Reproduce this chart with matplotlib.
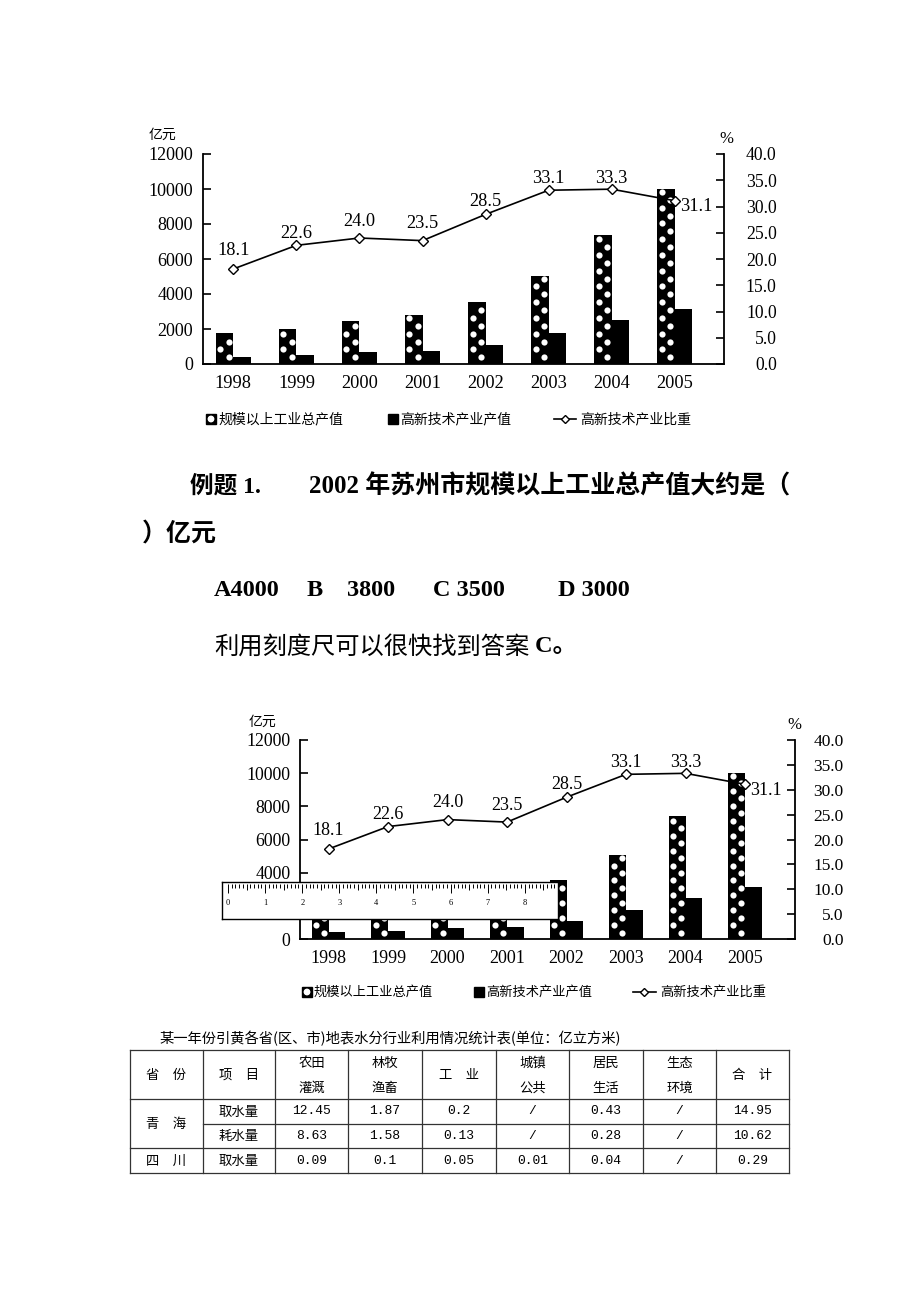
#!/usr/bin/env python
"""
Rebuild the scanned worksheet page: the Suzhou industry chart, the example
question, the same chart with a ruler laid over it, and the water-use table.
"""

import numpy as np
import matplotlib
matplotlib.use("Agg")
import matplotlib.pyplot as plt
from matplotlib.patches import Rectangle, Circle

plt.rcParams['font.family'] = ['Liberation Serif', 'Noto Sans CJK SC']

# ---- values ----
years = ["1998", "1999", "2000", "2001", "2002", "2003", "2004", "2005"]
total_output = [1780, 2000, 2450, 2800, 3550, 5050, 7400, 10000]   # 亿元
hitech_output = [400, 510, 660, 740, 1060, 1750, 2500, 3150]       # 亿元
hitech_share = [18.1, 22.6, 24.0, 23.5, 28.5, 33.1, 33.3, 31.1]    # %

left_ticks = [0, 2000, 4000, 6000, 8000, 10000, 12000]
right_ticks = [0, 5, 10, 15, 20, 25, 30, 35, 40]
legend_labels = ["规模以上工业总产值", "高新技术产业产值", "高新技术产业比重"]

question_head = "例题 1."
question_body = "2002 年苏州市规模以上工业总产值大约是（"
question_tail = "）亿元"
answer_options = ["A4000", "B", "3800", "C 3500", "D 3000"]
explanation = "利用刻度尺可以很快找到答案"
explanation_answer = " C。"

ruler_numbers = [0, 1, 2, 3, 4, 5, 6, 7, 8]

table_title = "某一年份引黄各省(区、市)地表水分行业利用情况统计表(单位：亿立方米)"
table_header = ["省　份", "项　目", "农田\n灌溉", "林牧\n渔畜", "工　业",
                "城镇\n公共", "居民\n生活", "生态\n环境", "合　计"]
table_provinces = ["青　海", "四　川"]
table_items = ["取水量", "耗水量", "取水量"]
table_values = [
    ["12.45", "1.87", "0.2", "/", "0.43", "/", "14.95"],
    ["8.63", "1.58", "0.13", "/", "0.28", "/", "10.62"],
    ["0.09", "0.1", "0.05", "0.01", "0.04", "/", "0.29"],
]

# ---- page geometry (pixels) ----
W, H = 920, 1302
CJK = 'Noto Sans CJK SC'
MONO = ['Liberation Mono', CJK]

fig = plt.figure(figsize=(W / 100, H / 100), dpi=100)
page = fig.add_axes([0, 0, 1, 1])
page.set_xlim(0, W)
page.set_ylim(H, 0)
page.axis('off')


def px_axes(x0, y0, x1, y1):
    return fig.add_axes([x0 / W, 1 - y1 / H, (x1 - x0) / W, (y1 - y0) / H])


# label offsets (px above marker); the last one sits to the right
label_dy = [18, 12, 17, 17, 13, 12, 11]


def draw_chart(box, right_pad, fs, rpad, hidden=()):
    x0, y0, x1, y1 = box
    ax = px_axes(x0, y0, x1, y1)
    ax.set_facecolor('none')
    x = np.arange(len(years))
    w = 0.28
    ax.bar(x - w / 2, total_output, w, color='black', zorder=2)
    ax.bar(x + w / 2, hitech_output, w, color='black', zorder=2)

    # white dots inside the "total output" bars
    for xi, h in zip(x, total_output):
        ys = np.arange(380, h - 150, 450)
        side = np.where(np.arange(len(ys)) % 2 == 0, 0.24, -0.24) * w
        ax.scatter(xi - w / 2 + side, ys, s=20, color='white',
                   linewidths=0, zorder=3)

    ax.set_xlim(-0.48, len(years) - 1 + right_pad)
    ax.set_ylim(0, 12000)
    ax.set_yticks(left_ticks)
    # labels sitting under the ruler are not visible on the page
    ax.set_yticklabels(["" if v in hidden else str(v) for v in left_ticks])
    ax.set_xticks(x)
    ax.set_xticklabels(years)
    ax.tick_params(axis='x', length=0, pad=8, labelsize=fs + 0.5)
    ax.tick_params(axis='y', direction='in', length=6, width=1.2,
                   pad=7, labelsize=fs + 0.3)
    ax.spines['top'].set_visible(False)
    ax.spines['right'].set_visible(False)
    for s in ('left', 'bottom'):
        ax.spines[s].set_linewidth(1.3)

    ax2 = ax.twinx()
    ax2.plot(x, hitech_share, '-', color='black', lw=1.2, marker='D',
             ms=5, mfc='white', mec='black', mew=1.0, zorder=4)
    ax2.set_ylim(0, 40)
    ax2.set_yticks(right_ticks)
    ax2.set_yticklabels([f"{v:.1f}" for v in right_ticks], ha='right')
    ax2.tick_params(axis='y', direction='in', length=6, width=1.2,
                    pad=rpad, labelsize=fs)
    for s in ('top', 'left', 'bottom'):
        ax2.spines[s].set_visible(False)
    ax2.spines['right'].set_linewidth(1.3)

    for i, v in enumerate(hitech_share):
        if i < len(label_dy):
            ax2.annotate(f"{v:.1f}", (x[i], v), xytext=(0, label_dy[i] * 0.72),
                         textcoords='offset points', ha='center', va='center',
                         fontsize=fs + 0.5)
        else:
            ax2.annotate(f"{v:.1f}", (x[i], v), xytext=(4, -4.5),
                         textcoords='offset points', ha='left', va='center',
                         fontsize=fs + 0.5)
    return ax


def draw_legend(y, xs, sq, fs):
    sq1, t1, sq2, t2, l0, l1, t3 = xs
    page.add_patch(Rectangle((sq1, y - sq / 2), sq, sq, color='black'))
    page.add_patch(Circle((sq1 + sq / 2, y), sq * 0.27, color='white'))
    page.text(t1, y, legend_labels[0], va='center', ha='left',
              fontsize=fs, family=CJK)
    page.add_patch(Rectangle((sq2, y - sq / 2), sq, sq, color='black'))
    page.text(t2, y, legend_labels[1], va='center', ha='left',
              fontsize=fs, family=CJK)
    page.plot([l0, l1], [y, y], color='black', lw=1.2)
    page.plot([(l0 + l1) / 2], [y], marker='D', ms=4.2, mfc='white',
              mec='black', mew=1.0)
    page.text(t3, y, legend_labels[2], va='center', ha='left',
              fontsize=fs, family=CJK)


# ---- chart 1 ----
draw_chart((203, 154, 724, 364), 0.78, 12.7, 38)
page.text(162, 135, "亿元", ha='center', va='center', fontsize=10, family=CJK)
page.text(726, 139, "%", ha='center', va='center', fontsize=12)
draw_legend(419, (206, 218, 388, 400, 554, 576, 580), 10, 10)

# ---- question text ----
page.text(190, 486, question_head, ha='left', va='center', fontsize=17,
          weight='bold')
page.text(309, 486, question_body, ha='left', va='center', fontsize=18,
          weight='bold')
page.text(142, 535, question_tail, ha='left', va='center', fontsize=18,
          weight='bold')
for xo, opt in zip([214, 307, 347, 433, 558], answer_options):
    page.text(xo, 590, opt, ha='left', va='center', fontsize=17.5,
              weight='bold')
t = page.text(214, 647, explanation, ha='left', va='center', fontsize=17.5,
              family=CJK)
page.annotate(explanation_answer, xy=(1, 0.5), xycoords=t, ha='left',
              va='center', fontsize=17.5, weight='bold')

# ---- chart 2 (with ruler) ----
draw_chart((300, 740, 795, 939), 0.84, 12.5, 35, hidden=(2000,))
page.text(262, 722, "亿元", ha='center', va='center', fontsize=10, family=CJK)
page.text(794, 725, "%", ha='center', va='center', fontsize=12)
draw_legend(992, (302, 314, 474, 486, 633, 656, 660), 10, 9.5)

rx0, ry0, rx1, ry1 = 222, 882, 558, 919
rax = px_axes(rx0, ry0, rx1, ry1)
cm = 37.1
rax.set_xlim((rx0 - 228) / cm, (rx1 - 228) / cm)
rax.set_ylim(ry1 - ry0, 0)
rax.set_facecolor('white')
rax.set_xticks([])
rax.set_yticks([])
for s in rax.spines.values():
    s.set_linewidth(1.0)
mm_idx = np.arange(0, 89)
tick_len = np.where(mm_idx % 10 == 0, 9.5, np.where(mm_idx % 5 == 0, 6.5, 4))
rax.vlines(mm_idx / 10, 1.5, 1.5 + tick_len, color='black', lw=0.7)
for n in ruler_numbers:
    rax.text(n, 21, str(n), ha='center', va='center', fontsize=6)

# ---- table ----
page.text(159, 1038, table_title, ha='left', va='center', fontsize=10.3,
          family=CJK)
col_x = [130, 203, 275, 348, 422, 496, 569, 643, 716, 789]
row_y = [1050, 1099, 1124, 1148, 1173]
lc = '#333333'
for yy in (row_y[0], row_y[1], row_y[3], row_y[4]):
    page.plot([col_x[0], col_x[-1]], [yy, yy], color=lc, lw=0.9)
page.plot([col_x[1], col_x[-1]], [row_y[2], row_y[2]], color=lc, lw=0.9)
for xx in col_x:
    page.plot([xx, xx], [row_y[0], row_y[-1]], color=lc, lw=0.9)

for j, head in enumerate(table_header):
    cx = (col_x[j] + col_x[j + 1]) / 2
    parts = head.split("\n")
    if len(parts) == 2:
        page.text(cx, 1063, parts[0], ha='center', va='center',
                  fontsize=9.6, family=CJK)
        page.text(cx, 1088, parts[1], ha='center', va='center',
                  fontsize=9.6, family=CJK)
    else:
        page.text(cx, 1075, head, ha='center', va='center',
                  fontsize=9.6, family=CJK)

page.text((col_x[0] + col_x[1]) / 2, (row_y[1] + row_y[3]) / 2,
          table_provinces[0], ha='center', va='center', fontsize=9.6,
          family=CJK)
page.text((col_x[0] + col_x[1]) / 2, (row_y[3] + row_y[4]) / 2,
          table_provinces[1], ha='center', va='center', fontsize=9.6,
          family=CJK)
for r, (item, vals) in enumerate(zip(table_items, table_values)):
    cy = (row_y[r + 1] + row_y[r + 2]) / 2
    page.text((col_x[1] + col_x[2]) / 2, cy, item, ha='center', va='center',
              fontsize=9.6, family=CJK)
    for j, v in enumerate(vals):
        cx = (col_x[j + 2] + col_x[j + 3]) / 2
        page.text(cx, cy, v, ha='center', va='center', fontsize=9.4,
                  family=MONO)

fig.savefig("out.png", dpi=100)
